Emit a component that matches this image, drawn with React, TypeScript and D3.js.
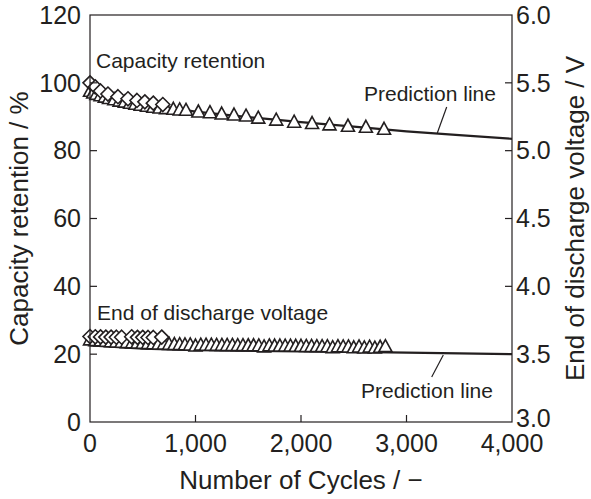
import React from "react";
import * as d3 from "d3";

const W = 591;
const H = 499;

// Capacity retention (%) — triangles
const capTriCycles = [0, 30, 60, 100, 140, 180, 230, 280, 330, 380, 430, 480, 540, 600, 660, 720, 790, 850, 910, 1027, 1137, 1248, 1365, 1479, 1595, 1765, 1935, 2105, 2270, 2445, 2615, 2787];
const capTriValues = [97.5, 97.0, 96.6, 96.2, 95.8, 95.4, 95.0, 94.6, 94.3, 94.0, 93.7, 93.4, 93.1, 92.8, 92.6, 92.4, 92.2, 92.0, 91.9, 91.4, 91.2, 90.8, 90.5, 90.2, 89.6, 89.0, 88.4, 88.0, 87.6, 87.2, 86.9, 86.3];
// Capacity retention (%) — diamonds
const capDiaCycles = [0, 50, 100, 170, 265, 360, 445, 520, 600, 690];
const capDiaValues = [100, 98.8, 97.6, 96.7, 95.9, 95.3, 94.8, 94.4, 94.0, 93.6];
// Capacity prediction line
const capPredCycles = [0, 100, 300, 600, 1000, 1500, 2000, 2500, 3000, 3500, 4000];
const capPredValues = [98.0, 96.6, 95.0, 93.4, 91.5, 89.9, 88.4, 87.1, 85.7, 84.6, 83.5];

// End of discharge voltage (V) — triangles
const voltTriCycles = [0, 50, 100, 150, 200, 250, 300, 350, 400, 450, 500, 550, 600, 650, 700, 750, 800, 850, 900, 950, 1000, 1050, 1100, 1150, 1200, 1250, 1300, 1350, 1400, 1450, 1500, 1550, 1600, 1650, 1700, 1750, 1800, 1850, 1900, 1950, 2000, 2050, 2100, 2150, 2200, 2250, 2300, 2350, 2400, 2450, 2500, 2550, 2600, 2650, 2700, 2750, 2800];
const voltTriValues = [3.605, 3.600, 3.598, 3.595, 3.592, 3.590, 3.588, 3.585, 3.583, 3.582, 3.580, 3.578, 3.577, 3.575, 3.574, 3.572, 3.571, 3.570, 3.569, 3.568, 3.560, 3.567, 3.566, 3.566, 3.565, 3.565, 3.564, 3.564, 3.563, 3.563, 3.562, 3.562, 3.561, 3.554, 3.561, 3.560, 3.560, 3.559, 3.559, 3.558, 3.558, 3.557, 3.557, 3.556, 3.556, 3.555, 3.548, 3.555, 3.554, 3.553, 3.547, 3.553, 3.546, 3.552, 3.545, 3.551, 3.556];
// End of discharge voltage (V) — diamonds
const voltDiaCycles = [0, 50, 100, 150, 200, 250, 300, 395, 450, 500, 550, 600, 680];
const voltDiaValues = [3.630, 3.628, 3.627, 3.626, 3.626, 3.625, 3.625, 3.628, 3.624, 3.624, 3.623, 3.623, 3.626];
// Voltage prediction line
const voltPredCycles = [0, 500, 1000, 1500, 2000, 2500, 3000, 3500, 4000];
const voltPredValues = [3.565, 3.540, 3.530, 3.525, 3.521, 3.517, 3.512, 3.506, 3.500];

const xTicks = [0, 1000, 2000, 3000, 4000];
const yLeftTicks = [0, 20, 40, 60, 80, 100, 120];
const yRightTicks = [3.0, 3.5, 4.0, 4.5, 5.0, 5.5, 6.0];

const FONT = "'Liberation Sans', Arial, sans-serif";
const INK = "#231f20";

export default function App() {
  const left = 90, right = 512, top = 15, bottom = 422;
  const x = d3.scaleLinear().domain([0, 4000]).range([left, right]);
  const yL = d3.scaleLinear().domain([0, 120]).range([bottom, top]);
  const yR = d3.scaleLinear().domain([3, 6]).range([bottom, top]);
  const fmt = d3.format(",");

  const capLine = d3.line<number>().x((_, i) => x(capPredCycles[i])).y((d) => yL(d));
  const voltLine = d3.line<number>().x((_, i) => x(voltPredCycles[i])).y((d) => yR(d));

  const tri = "M0,-7L6.5,5L-6.5,5Z";
  const dia = "M0,-7L7,0L0,7L-7,0Z";
  const tickLen = 7;
  const tickFont = 25;
  const titleFont = 26;
  const noteFont = 21;

  return (
    <svg width={W} height={H} style={{ position: "absolute", left: 0, top: 0, background: "#fff" }} fontFamily={FONT}>
      <rect x={0} y={0} width={W} height={H} fill="#fff" />
      {/* prediction lines */}
      <path d={capLine(capPredValues) || ""} fill="none" stroke={INK} strokeWidth={2.2} />
      <path d={voltLine(voltPredValues) || ""} fill="none" stroke={INK} strokeWidth={2.2} />

      {/* markers */}
      {voltTriValues.map((v, i) => (
        <path key={"vt" + i} d={tri} transform={`translate(${x(voltTriCycles[i])},${yR(v)})`} fill="#fff" stroke={INK} strokeWidth={1.6} />
      ))}
      {voltDiaValues.map((v, i) => (
        <path key={"vd" + i} d={dia} transform={`translate(${x(voltDiaCycles[i])},${yR(v)})`} fill="#fff" stroke={INK} strokeWidth={1.6} />
      ))}
      {capTriValues.map((v, i) => (
        <path key={"ct" + i} d={tri} transform={`translate(${x(capTriCycles[i])},${yL(v)})`} fill="#fff" stroke={INK} strokeWidth={1.6} />
      ))}
      {capDiaValues.map((v, i) => (
        <path key={"cd" + i} d={dia} transform={`translate(${x(capDiaCycles[i])},${yL(v)})`} fill="#fff" stroke={INK} strokeWidth={1.6} />
      ))}

      {/* frame */}
      <rect x={left} y={top} width={right - left} height={bottom - top} fill="none" stroke={INK} strokeWidth={1.2} />

      {/* bottom ticks */}
      {xTicks.map((t) => (
        <g key={"xt" + t}>
          {t > 0 && t < 4000 && <line x1={x(t)} x2={x(t)} y1={bottom} y2={bottom - tickLen} stroke={INK} strokeWidth={1.2} />}
          <text x={x(t)} y={bottom + 30} textAnchor="middle" fontSize={tickFont} fill={INK}>{fmt(t)}</text>
        </g>
      ))}
      {/* left ticks */}
      {yLeftTicks.map((t) => (
        <g key={"yl" + t}>
          {t > 0 && t < 120 && <line x1={left} x2={left + tickLen} y1={yL(t)} y2={yL(t)} stroke={INK} strokeWidth={1.2} />}
          <text x={left - 9} y={yL(t)} dy="0.35em" textAnchor="end" fontSize={tickFont} fill={INK}>{t}</text>
        </g>
      ))}
      {/* right ticks */}
      {yRightTicks.map((t) => (
        <g key={"yr" + t}>
          {t > 3 && t < 6 && <line x1={right} x2={right - tickLen} y1={yR(t)} y2={yR(t)} stroke={INK} strokeWidth={1.2} />}
          <text x={right + 4} y={yR(t)} dy={t === 3 ? "0.2em" : "0.35em"} textAnchor="start" fontSize={tickFont} fill={INK}>{t.toFixed(1)}</text>
        </g>
      ))}

      {/* axis titles */}
      <text x={(left + right) / 2} y={489} textAnchor="middle" fontSize={titleFont} fill={INK}>Number of Cycles / −</text>
      <text transform={`translate(28,${(top + bottom) / 2}) rotate(-90)`} textAnchor="middle" fontSize={titleFont} fill={INK}>Capacity retention / %</text>
      <text transform={`translate(584,${(top + bottom) / 2}) rotate(-90)`} textAnchor="middle" fontSize={titleFont} fill={INK}>End of discharge voltage / V</text>

      {/* annotations */}
      <text x={96} y={68} fontSize={noteFont} fill={INK}>Capacity retention</text>
      <text x={364} y={101} fontSize={noteFont} fill={INK}>Prediction line</text>
      <line x1={446.7} y1={107} x2={437.3} y2={133} stroke={INK} strokeWidth={1.2} />
      <text x={97} y={320} fontSize={noteFont} fill={INK}>End of discharge voltage</text>
      <text x={361} y={398} fontSize={noteFont} fill={INK}>Prediction line</text>
      <line x1={443.3} y1={355} x2={431.7} y2={377} stroke={INK} strokeWidth={1.2} />
    </svg>
  );
}
